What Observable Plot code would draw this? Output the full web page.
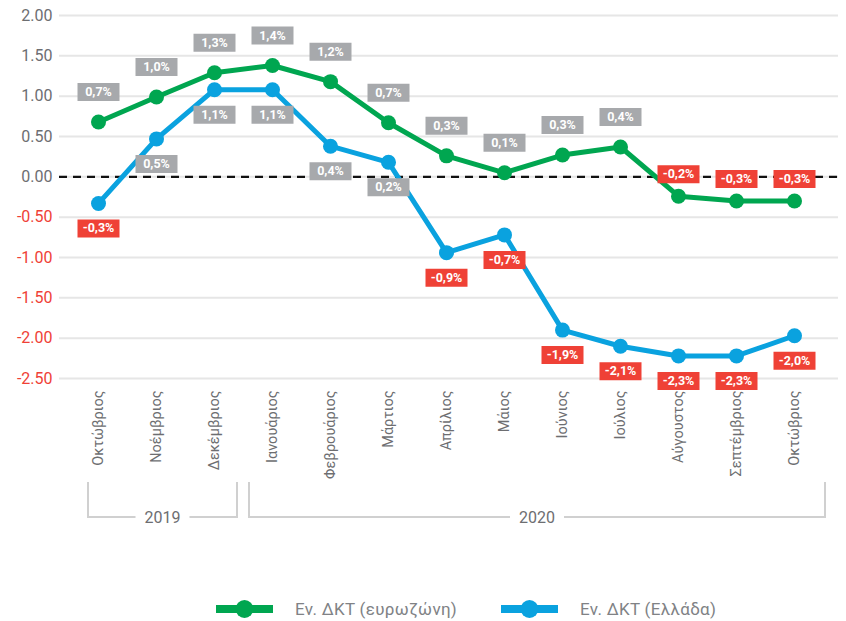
<!DOCTYPE html>
<html><head><meta charset="utf-8">
<script src="https://cdn.jsdelivr.net/npm/d3@7"></script>
<script src="https://cdn.jsdelivr.net/npm/@observablehq/plot@0.6"></script>
<style>
body{margin:0;background:#fff;font-family:Roboto,"Noto Sans",sans-serif;}
#wrap{position:relative;width:846px;height:621px;}
#legend{position:absolute;left:0;top:597px;height:24px;display:flex;align-items:center;padding-left:216px;color:#808285;font-size:17px;letter-spacing:0.3px;}
.item{display:flex;align-items:center;}
.item svg{margin-right:22px;}
</style></head><body>
<div id="wrap"><div id="chart"></div><div id="legend"></div></div>
<script>
const months = ["Οκτώβριος","Νοέμβριος","Δεκέμβριος","Ιανουάριος","Φεβρουάριος","Μάρτιος","Απρίλιος","Μάιος","Ιούνιος","Ιούλιος","Αύγουστος","Σεπτέμβριος","Οκτώβριος"];
const years = [{label:"2019", from:0, to:2},{label:"2020", from:3, to:12}];
const euroValues   = [0.68,0.99,1.29,1.38,1.18,0.67,0.26,0.05,0.27,0.37,-0.24,-0.30,-0.30];
const euroLabels   = [0.7,1.0,1.3,1.4,1.2,0.7,0.3,0.1,0.3,0.4,-0.2,-0.3,-0.3];
const greeceValues = [-0.33,0.47,1.08,1.08,0.38,0.18,-0.94,-0.72,-1.90,-2.10,-2.22,-2.22,-1.97];
const greeceLabels = [-0.3,0.5,1.1,1.1,0.4,0.2,-0.9,-0.7,-1.9,-2.1,-2.3,-2.3,-2.0];
const yTicks = [2,1.5,1,0.5,0,-0.5,-1,-1.5,-2,-2.5];
const seriesNames = ["Εν. ΔΚΤ (ευρωζώνη)","Εν. ΔΚΤ (Ελλάδα)"];
const seriesColors = ["#00a650","#0aa2df"];

const GRAY = "#6d6e71", RED = "#ef4136", BOXGRAY = "#a7a9ac";
const FONT = "Roboto, 'Noto Sans', sans-serif";
const euro = months.map((m,i)=>({i, v:euroValues[i], lab:euroLabels[i]}));
const greece = months.map((m,i)=>({i, v:greeceValues[i], lab:greeceLabels[i]}));
const fmtPct = d => d.toFixed(1).replace(".", ",") + "%";
const box = {draw(ctx){ctx.rect(-21,-9,42,18);}};

function labels(data, dyPos, dyNeg){
  const common = {x:"i", y:"v", symbol:box, r:5};
  const t = {x:"i", y:"v", text:d=>fmtPct(d.lab), fill:"#fff", fontWeight:"bold", fontSize:12.5};
  return [
    Plot.dot(data,{...common, dy:dyPos, filter:d=>d.lab>=0, fill:BOXGRAY}),
    Plot.dot(data,{...common, dy:dyNeg, filter:d=>d.lab<0, fill:RED}),
    Plot.text(data,{...t, dy:dyPos, filter:d=>d.lab>=0}),
    Plot.text(data,{...t, dy:dyNeg, filter:d=>d.lab<0})
  ];
}

const plot = Plot.plot({
  width:846, height:580,
  marginLeft:59, marginRight:8, marginTop:15, marginBottom:202,
  style:{fontFamily:FONT, background:"#fff"},
  x:{type:"point", domain:d3.range(months.length), padding:0, insetLeft:33, insetRight:39},
  y:{domain:[-2.5,2]},
  marks:[
    Plot.ruleY(yTicks,{stroke:"#e6e6e6", strokeWidth:2}),
    Plot.ruleY([0],{stroke:"#111", strokeWidth:2.2, strokeDasharray:"8,6"}),
    Plot.text(yTicks.filter(d=>d>=0),{y:d=>d, frameAnchor:"left", dx:-7, textAnchor:"end", text:d=>d.toFixed(2), fill:GRAY, fontSize:16}),
    Plot.text(yTicks.filter(d=>d<0),{y:d=>d, frameAnchor:"left", dx:-7, textAnchor:"end", text:d=>d.toFixed(2), fill:RED, fontSize:16}),
    Plot.axisX({tickRotate:-90, tickSize:0, tickPadding:12, tickFormat:i=>months[i], fontSize:14.5, fill:GRAY, label:null}),
    Plot.axisY({ticks:[], tickSize:0, label:null}),
    Plot.line(greece,{x:"i", y:"v", stroke:seriesColors[1], strokeWidth:5}),
    Plot.dot(greece,{x:"i", y:"v", r:7.5, fill:seriesColors[1]}),
    Plot.line(euro,{x:"i", y:"v", stroke:seriesColors[0], strokeWidth:5}),
    Plot.dot(euro,{x:"i", y:"v", r:7.5, fill:seriesColors[0]}),
    ...labels(euro, -30, -22),
    ...labels(greece, 25, 25)
  ]
});
document.getElementById("chart").appendChild(plot);

// year brackets, positioned through the plot's x scale
const xs = plot.scale("x");
const X = i => xs.apply(i);
const svg = d3.select(plot);
const g = svg.append("g").attr("fill","none").attr("stroke","#d0d0d0").attr("stroke-width",2);
const yTop = 482, yBot = 517, gapHalf = 27;
years.forEach((yr, k) => {
  const left = k===0 ? X(yr.from)-10 : (X(yr.from-1)+X(yr.from))/2 + 6;
  const right = k===years.length-1 ? X(yr.to)+31 : (X(yr.to)+X(yr.to+1))/2 - 6;
  const mid = (left+right)/2;
  g.append("path").attr("d",`M${left},${yTop}V${yBot}H${mid-gapHalf}M${mid+gapHalf},${yBot}H${right}V${yTop}`);
  svg.append("text").attr("x",mid).attr("y",yBot).attr("dy","0.35em").attr("text-anchor","middle")
    .attr("fill",GRAY).attr("font-size",16).attr("font-family",FONT).text(yr.label);
});

// legend
const lg = document.getElementById("legend");
seriesNames.forEach((name,k)=>{
  const it = document.createElement("div");
  it.className="item";
  if(k===0) it.style.width="285px";
  it.innerHTML = `<svg width="57" height="20"><line x1="0" y1="10" x2="57" y2="10" stroke="${seriesColors[k]}" stroke-width="8"/><circle cx="28.5" cy="10" r="9" fill="${seriesColors[k]}"/></svg><span>${name}</span>`;
  lg.appendChild(it);
});
</script>
</body></html>
